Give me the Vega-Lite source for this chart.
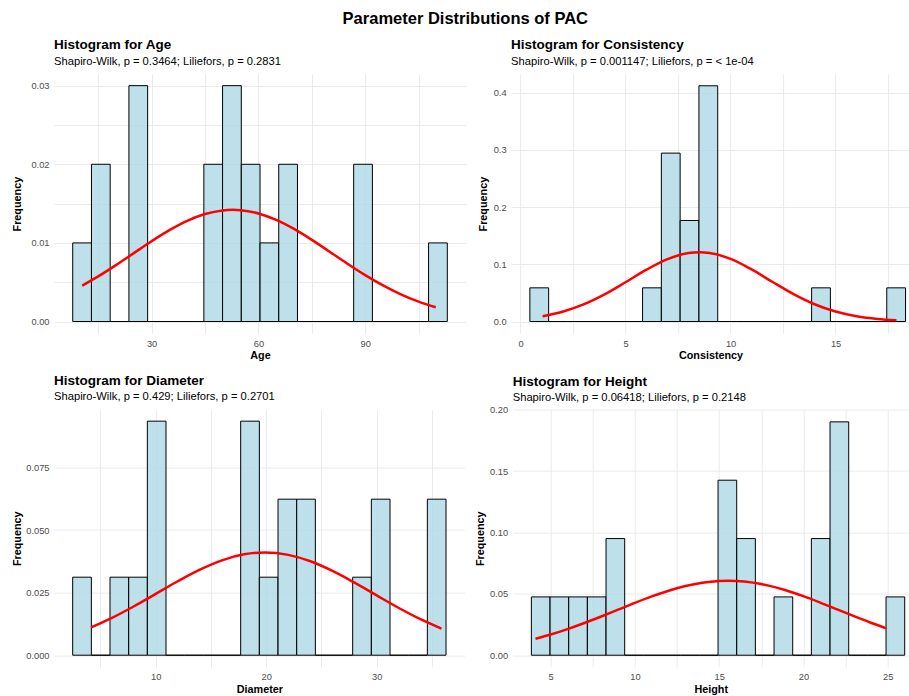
{
  "$schema": "https://vega.github.io/schema/vega-lite/v6.json",
  "background": "white",
  "padding": {"left": 11, "top": 10, "right": 0, "bottom": 0},
  "title": {"text": "Parameter Distributions of PAC", "anchor": "start", "fontSize": 16.5, "fontWeight": "bold", "font": "Liberation Sans", "color": "#000", "dx": 288.6, "offset": 11},
  "config": {
    "view": {"stroke": null},
    "font": "Liberation Sans",
    "axis": {"domain": false, "ticks": false, "tickSize": 0, "labelFont": "Liberation Sans", "labelFontSize": 9.3, "labelColor": "#4D4D4D", "titleFont": "Liberation Sans", "titleFontSize": 10.8, "titleFontWeight": "bold", "titleColor": "#000", "gridColor": "#EBEBEB", "gridWidth": 1, "labelPadding": 5},
    "axisX": {"labelPadding": 6, "titleY": 25.5, "titleBaseline": "alphabetic"},
    "axisY": {"titleAngle": -90, "titleBaseline": "alphabetic", "titleAlign": "center"},
    "title": {"anchor": "start", "frame": "group", "font": "Liberation Sans", "fontSize": 13.5, "fontWeight": "bold", "color": "#000", "subtitleFont": "Liberation Sans", "subtitleFontSize": 11.2, "subtitleColor": "#000", "subtitlePadding": 4, "offset": 7}
  },
  "datasets": {
    "age_bars": [
      {"x0": 7.85, "x1": 13.11, "density": 0.010006},
      {"x0": 13.11, "x1": 18.37, "density": 0.020012},
      {"x0": 18.37, "x1": 23.63, "density": 0},
      {"x0": 23.63, "x1": 28.89, "density": 0.030018},
      {"x0": 28.89, "x1": 34.15, "density": 0},
      {"x0": 34.15, "x1": 39.41, "density": 0},
      {"x0": 39.41, "x1": 44.67, "density": 0},
      {"x0": 44.67, "x1": 49.93, "density": 0.020012},
      {"x0": 49.93, "x1": 55.19, "density": 0.030018},
      {"x0": 55.19, "x1": 60.45, "density": 0.020012},
      {"x0": 60.45, "x1": 65.71, "density": 0.010006},
      {"x0": 65.71, "x1": 70.97, "density": 0.020012},
      {"x0": 70.97, "x1": 76.23, "density": 0},
      {"x0": 76.23, "x1": 81.49, "density": 0},
      {"x0": 81.49, "x1": 86.75, "density": 0},
      {"x0": 86.75, "x1": 92.01, "density": 0.020012},
      {"x0": 92.01, "x1": 97.27, "density": 0},
      {"x0": 97.27, "x1": 102.53, "density": 0},
      {"x0": 102.53, "x1": 107.79, "density": 0},
      {"x0": 107.79, "x1": 113.05, "density": 0.010006}
    ],
    "age_curve": [
      {"x": 10.5, "density": 0.004566}, {"x": 15, "density": 0.00574}, {"x": 20, "density": 0.007181},
      {"x": 25, "density": 0.008703}, {"x": 30, "density": 0.010218}, {"x": 35, "density": 0.011624},
      {"x": 40, "density": 0.012809}, {"x": 45, "density": 0.013674}, {"x": 50, "density": 0.014142},
      {"x": 52.8, "density": 0.014212}, {"x": 55, "density": 0.014168}, {"x": 60, "density": 0.013752},
      {"x": 65, "density": 0.012931}, {"x": 70, "density": 0.01178}, {"x": 75, "density": 0.010395},
      {"x": 80, "density": 0.008887}, {"x": 85, "density": 0.007361}, {"x": 90, "density": 0.005906},
      {"x": 95, "density": 0.004591}, {"x": 100, "density": 0.003457}, {"x": 105, "density": 0.002522},
      {"x": 109.8, "density": 0.001808}
    ],
    "cons_bars": [
      {"x0": 0.444, "x1": 1.338, "density": 0.058848},
      {"x0": 1.338, "x1": 2.233, "density": 0},
      {"x0": 2.233, "x1": 3.127, "density": 0},
      {"x0": 3.127, "x1": 4.022, "density": 0},
      {"x0": 4.022, "x1": 4.916, "density": 0},
      {"x0": 4.916, "x1": 5.81, "density": 0},
      {"x0": 5.81, "x1": 6.705, "density": 0.058848},
      {"x0": 6.705, "x1": 7.599, "density": 0.29424},
      {"x0": 7.599, "x1": 8.494, "density": 0.176544},
      {"x0": 8.494, "x1": 9.388, "density": 0.411936},
      {"x0": 9.388, "x1": 10.282, "density": 0},
      {"x0": 10.282, "x1": 11.177, "density": 0},
      {"x0": 11.177, "x1": 12.071, "density": 0},
      {"x0": 12.071, "x1": 12.966, "density": 0},
      {"x0": 12.966, "x1": 13.86, "density": 0},
      {"x0": 13.86, "x1": 14.754, "density": 0.058848},
      {"x0": 14.754, "x1": 15.649, "density": 0},
      {"x0": 15.649, "x1": 16.543, "density": 0},
      {"x0": 16.543, "x1": 17.438, "density": 0},
      {"x0": 17.438, "x1": 18.332, "density": 0.058848}
    ],
    "cons_curve": [
      {"x": 1.05, "density": 0.00932}, {"x": 2, "density": 0.017183}, {"x": 3, "density": 0.029896},
      {"x": 4, "density": 0.047434}, {"x": 5, "density": 0.068645}, {"x": 6, "density": 0.090596},
      {"x": 7, "density": 0.10903}, {"x": 8, "density": 0.11967}, {"x": 8.51, "density": 0.12111},
      {"x": 9, "density": 0.11978}, {"x": 10, "density": 0.10933}, {"x": 11, "density": 0.091014},
      {"x": 12, "density": 0.06909}, {"x": 13, "density": 0.047831}, {"x": 14, "density": 0.030199},
      {"x": 15, "density": 0.017388}, {"x": 16, "density": 0.009132}, {"x": 17, "density": 0.004372},
      {"x": 17.9, "density": 0.002083}
    ],
    "diam_bars": [
      {"x0": 2.49, "x1": 4.179, "density": 0.031161},
      {"x0": 4.179, "x1": 5.868, "density": 0},
      {"x0": 5.868, "x1": 7.557, "density": 0.031161},
      {"x0": 7.557, "x1": 9.246, "density": 0.031161},
      {"x0": 9.246, "x1": 10.935, "density": 0.093483},
      {"x0": 10.935, "x1": 12.624, "density": 0},
      {"x0": 12.624, "x1": 14.313, "density": 0},
      {"x0": 14.313, "x1": 16.002, "density": 0},
      {"x0": 16.002, "x1": 17.691, "density": 0},
      {"x0": 17.691, "x1": 19.38, "density": 0.093483},
      {"x0": 19.38, "x1": 21.069, "density": 0.031161},
      {"x0": 21.069, "x1": 22.758, "density": 0.062322},
      {"x0": 22.758, "x1": 24.447, "density": 0.062322},
      {"x0": 24.447, "x1": 26.136, "density": 0},
      {"x0": 26.136, "x1": 27.825, "density": 0},
      {"x0": 27.825, "x1": 29.514, "density": 0.031161},
      {"x0": 29.514, "x1": 31.203, "density": 0.062322},
      {"x0": 31.203, "x1": 32.892, "density": 0},
      {"x0": 32.892, "x1": 34.581, "density": 0},
      {"x0": 34.581, "x1": 36.27, "density": 0.062322}
    ],
    "diam_curve": [
      {"x": 4.16, "density": 0.011099}, {"x": 6, "density": 0.014807}, {"x": 8, "density": 0.019448},
      {"x": 10, "density": 0.024485}, {"x": 12, "density": 0.029548}, {"x": 14, "density": 0.03418},
      {"x": 16, "density": 0.037901}, {"x": 18, "density": 0.040284}, {"x": 19.88, "density": 0.041044},
      {"x": 22, "density": 0.040079}, {"x": 24, "density": 0.037518}, {"x": 26, "density": 0.033664},
      {"x": 28, "density": 0.028954}, {"x": 30, "density": 0.02387}, {"x": 32, "density": 0.018864},
      {"x": 34, "density": 0.01429}, {"x": 35.86, "density": 0.010625}
    ],
    "height_bars": [
      {"x0": 3.853, "x1": 4.961, "density": 0.047502},
      {"x0": 4.961, "x1": 6.069, "density": 0.047502},
      {"x0": 6.069, "x1": 7.177, "density": 0.047502},
      {"x0": 7.177, "x1": 8.285, "density": 0.047502},
      {"x0": 8.285, "x1": 9.393, "density": 0.095004},
      {"x0": 9.393, "x1": 10.501, "density": 0},
      {"x0": 10.501, "x1": 11.609, "density": 0},
      {"x0": 11.609, "x1": 12.717, "density": 0},
      {"x0": 12.717, "x1": 13.825, "density": 0},
      {"x0": 13.825, "x1": 14.933, "density": 0},
      {"x0": 14.933, "x1": 16.041, "density": 0.142506},
      {"x0": 16.041, "x1": 17.149, "density": 0.095004},
      {"x0": 17.149, "x1": 18.257, "density": 0},
      {"x0": 18.257, "x1": 19.365, "density": 0.047502},
      {"x0": 19.365, "x1": 20.473, "density": 0},
      {"x0": 20.473, "x1": 21.581, "density": 0.095004},
      {"x0": 21.581, "x1": 22.689, "density": 0.190008},
      {"x0": 22.689, "x1": 23.797, "density": 0},
      {"x0": 23.797, "x1": 24.905, "density": 0},
      {"x0": 24.905, "x1": 26.013, "density": 0.047502}
    ],
    "height_curve": [
      {"x": 4.1, "density": 0.013447}, {"x": 5, "density": 0.01689}, {"x": 6, "density": 0.021289},
      {"x": 7, "density": 0.026219}, {"x": 8, "density": 0.031555}, {"x": 9, "density": 0.037109},
      {"x": 10, "density": 0.042644}, {"x": 11, "density": 0.047888}, {"x": 12, "density": 0.052546},
      {"x": 13, "density": 0.056342}, {"x": 14, "density": 0.059034}, {"x": 15, "density": 0.060441},
      {"x": 15.52, "density": 0.06063}, {"x": 16, "density": 0.060469}, {"x": 17, "density": 0.059115},
      {"x": 18, "density": 0.056473}, {"x": 19, "density": 0.052717}, {"x": 20, "density": 0.048088},
      {"x": 21, "density": 0.042861}, {"x": 22, "density": 0.037332}, {"x": 23, "density": 0.031774},
      {"x": 24, "density": 0.026426}, {"x": 24.91, "density": 0.021902}
    ]
  },
  "spacing": 12.6,
  "vconcat": [
    {
      "spacing": 11.1,
      "hconcat": [
        {
          "width": 412, "height": 259.3,
          "title": {"text": "Histogram for Age", "subtitle": "Shapiro-Wilk, p = 0.3464; Liliefors, p = 0.2831"},
          "layer": [
            {
              "data": {"name": "age_bars"},
              "mark": {"type": "rect", "fill": "#ADD8E6", "fillOpacity": 0.8, "stroke": "#000000", "strokeWidth": 1},
              "encoding": {
                "x": {"field": "x0", "type": "quantitative", "scale": {"domain": [2.59, 118.3], "nice": false, "zero": false},
                      "axis": {"title": "Age", "values": [15, 30, 45, 60, 75, 90, 105], "labelExpr": "datum.value % 30 == 0 ? format(datum.value, '.0f') : ''"}},
                "x2": {"field": "x1"},
                "y": {"field": "density", "type": "quantitative", "scale": {"domain": [-0.0015, 0.0315], "nice": false, "zero": false},
                      "axis": {"title": "Frequency", "titleX": -34, "titleY": 129.65, "values": [0, 0.005, 0.01, 0.015, 0.02, 0.025, 0.03], "labelExpr": "round(datum.value * 200) % 2 == 0 ? format(datum.value, '.2f') : ''"}},
                "y2": {"datum": 0}
              }
            },
            {
              "data": {"name": "age_curve"},
              "mark": {"type": "line", "color": "#FF0000", "strokeWidth": 2.5, "interpolate": "monotone"},
              "encoding": {
                "x": {"field": "x", "type": "quantitative"},
                "y": {"field": "density", "type": "quantitative"}
              }
            }
          ]
        },
        {
          "width": 398.8, "height": 259.3,
          "title": {"text": "Histogram for Consistency", "subtitle": "Shapiro-Wilk, p = 0.001147; Liliefors, p = < 1e-04"},
          "layer": [
            {
              "data": {"name": "cons_bars"},
              "mark": {"type": "rect", "fill": "#ADD8E6", "fillOpacity": 0.8, "stroke": "#000000", "strokeWidth": 1},
              "encoding": {
                "x": {"field": "x0", "type": "quantitative", "scale": {"domain": [-0.45, 18.54], "nice": false, "zero": false},
                      "axis": {"title": "Consistency", "values": [0, 2.5, 5, 7.5, 10, 12.5, 15, 17.5], "labelExpr": "round(datum.value * 2) % 10 == 0 ? format(datum.value, '.0f') : ''"}},
                "x2": {"field": "x1"},
                "y": {"field": "density", "type": "quantitative", "scale": {"domain": [-0.0206, 0.4325], "nice": false, "zero": false},
                      "axis": {"title": "Frequency", "titleX": -25, "titleY": 129.65, "values": [0, 0.05, 0.1, 0.15, 0.2, 0.25, 0.3, 0.35, 0.4], "labelExpr": "round(datum.value * 20) % 2 == 0 ? format(datum.value, '.1f') : ''"}},
                "y2": {"datum": 0}
              }
            },
            {
              "data": {"name": "cons_curve"},
              "mark": {"type": "line", "color": "#FF0000", "strokeWidth": 2.5, "interpolate": "monotone"},
              "encoding": {
                "x": {"field": "x", "type": "quantitative"},
                "y": {"field": "density", "type": "quantitative"}
              }
            }
          ]
        }
      ]
    },
    {
      "spacing": 8.7,
      "hconcat": [
        {
          "width": 410.7, "height": 257.3,
          "title": {"text": "Histogram for Diameter", "subtitle": "Shapiro-Wilk, p = 0.429; Liliefors, p = 0.2701"},
          "layer": [
            {
              "data": {"name": "diam_bars"},
              "mark": {"type": "rect", "fill": "#ADD8E6", "fillOpacity": 0.8, "stroke": "#000000", "strokeWidth": 1},
              "encoding": {
                "x": {"field": "x0", "type": "quantitative", "scale": {"domain": [0.8, 37.96], "nice": false, "zero": false},
                      "axis": {"title": "Diameter", "values": [5, 10, 15, 20, 25, 30, 35], "labelExpr": "datum.value % 10 == 0 ? format(datum.value, '.0f') : ''"}},
                "x2": {"field": "x1"},
                "y": {"field": "density", "type": "quantitative", "scale": {"domain": [-0.00467, 0.0981], "nice": false, "zero": false},
                      "axis": {"title": "Frequency", "titleX": -33.9, "titleY": 128.65, "values": [0, 0.0125, 0.025, 0.0375, 0.05, 0.0625, 0.075, 0.0875], "labelExpr": "round(datum.value * 80) % 2 == 0 ? format(datum.value, '.3f') : ''"}},
                "y2": {"datum": 0}
              }
            },
            {
              "data": {"name": "diam_curve"},
              "mark": {"type": "line", "color": "#FF0000", "strokeWidth": 2.5, "interpolate": "monotone"},
              "encoding": {
                "x": {"field": "x", "type": "quantitative"},
                "y": {"field": "density", "type": "quantitative"}
              }
            }
          ]
        },
        {
          "width": 396, "height": 257.3,
          "title": {"text": "Histogram for Height", "subtitle": "Shapiro-Wilk, p = 0.06418; Liliefors, p = 0.2148", "offset": 2.4},
          "layer": [
            {
              "data": {"name": "height_bars"},
              "mark": {"type": "rect", "fill": "#ADD8E6", "fillOpacity": 0.8, "stroke": "#000000", "strokeWidth": 1},
              "encoding": {
                "x": {"field": "x0", "type": "quantitative", "scale": {"domain": [2.745, 26.25], "nice": false, "zero": false},
                      "axis": {"title": "Height", "values": [5, 7.5, 10, 12.5, 15, 17.5, 20, 22.5, 25], "labelExpr": "round(datum.value * 2) % 10 == 0 ? format(datum.value, '.0f') : ''"}},
                "x2": {"field": "x1"},
                "y": {"field": "density", "type": "quantitative", "scale": {"domain": [-0.0095, 0.2], "nice": false, "zero": false},
                      "axis": {"title": "Frequency", "titleX": -29.3, "titleY": 128.65, "values": [0, 0.025, 0.05, 0.075, 0.1, 0.125, 0.15, 0.175, 0.2], "labelExpr": "round(datum.value * 40) % 2 == 0 ? format(datum.value, '.2f') : ''"}},
                "y2": {"datum": 0}
              }
            },
            {
              "data": {"name": "height_curve"},
              "mark": {"type": "line", "color": "#FF0000", "strokeWidth": 2.5, "interpolate": "monotone"},
              "encoding": {
                "x": {"field": "x", "type": "quantitative"},
                "y": {"field": "density", "type": "quantitative"}
              }
            }
          ]
        }
      ]
    }
  ]
}
